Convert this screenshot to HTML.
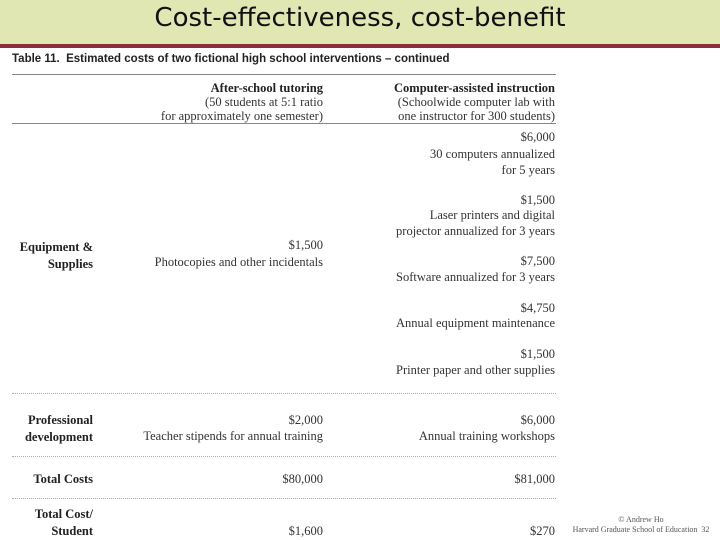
<!DOCTYPE html>
<html><head><meta charset="utf-8"><style>
body{margin:0;width:720px;height:540px;position:relative;background:#fff;overflow:hidden;font-family:"Liberation Serif",serif;color:#333}
.t{position:absolute;white-space:nowrap;font-size:12.5px;line-height:14px;transform:translateY(-50%)}
.r1{right:397px;text-align:right}.r2{right:165px;text-align:right}.r0{right:627px;text-align:right;font-weight:bold;color:#222}
.b{font-weight:bold;color:#222}
.ln{position:absolute;left:12px;width:544px;height:0}
</style></head><body>
<div style="position:absolute;left:0;top:0;width:720px;height:44px;background:#e0e7b3"></div>
<div style="position:absolute;left:0;top:44px;width:720px;height:4px;background:#8b2e3a"></div>
<div style="position:absolute;left:0;top:3px;width:720px;text-align:center;font-family:'DejaVu Sans','Liberation Sans',sans-serif;font-size:26px;color:#111">Cost-effectiveness, cost-benefit</div>
<div style="position:absolute;left:12px;top:53px;font-family:'Liberation Sans',sans-serif;font-weight:bold;font-size:11.5px;color:#222">Table 11.&nbsp; Estimated costs of two fictional high school interventions – continued</div>
<div class="ln" style="top:74px;border-top:1px solid #888"></div>
<div class="ln" style="top:123px;border-top:1px solid #888"></div>
<div class="ln" style="top:393px;border-top:1px dotted #aaa"></div>
<div class="ln" style="top:456px;border-top:1px dotted #aaa"></div>
<div class="ln" style="top:498px;border-top:1px dotted #aaa"></div>

<div class="t r1 b" style="top:88px">After-school tutoring</div>
<div class="t r1" style="top:102px">(50 students at 5:1 ratio</div>
<div class="t r1" style="top:116px">for approximately one semester)</div>
<div class="t r2 b" style="top:88px">Computer-assisted instruction</div>
<div class="t r2" style="top:102px">(Schoolwide computer lab with</div>
<div class="t r2" style="top:116px">one instructor for 300 students)</div>

<div class="t r2" style="top:137px">$6,000</div>
<div class="t r2" style="top:154px">30 computers annualized</div>
<div class="t r2" style="top:170px">for 5 years</div>
<div class="t r2" style="top:200px">$1,500</div>
<div class="t r2" style="top:215px">Laser printers and digital</div>
<div class="t r2" style="top:231px">projector annualized for 3 years</div>
<div class="t r2" style="top:261px">$7,500</div>
<div class="t r2" style="top:277px">Software annualized for 3 years</div>
<div class="t r2" style="top:308px">$4,750</div>
<div class="t r2" style="top:323px">Annual equipment maintenance</div>
<div class="t r2" style="top:354px">$1,500</div>
<div class="t r2" style="top:370px">Printer paper and other supplies</div>

<div class="t r0" style="top:247px">Equipment &amp;</div>
<div class="t r0" style="top:264px">Supplies</div>
<div class="t r1" style="top:245px">$1,500</div>
<div class="t r1" style="top:262px">Photocopies and other incidentals</div>

<div class="t r0" style="top:420px">Professional</div>
<div class="t r0" style="top:437px">development</div>
<div class="t r1" style="top:420px">$2,000</div>
<div class="t r1" style="top:436px">Teacher stipends for annual training</div>
<div class="t r2" style="top:420px">$6,000</div>
<div class="t r2" style="top:436px">Annual training workshops</div>

<div class="t r0" style="top:479px">Total Costs</div>
<div class="t r1" style="top:479px">$80,000</div>
<div class="t r2" style="top:479px">$81,000</div>

<div class="t r0" style="top:514px">Total Cost/</div>
<div class="t r0" style="top:531px">Student</div>
<div class="t r1" style="top:531px">$1,600</div>
<div class="t r2" style="top:531px">$270</div>

<div style="position:absolute;left:566px;top:515px;width:150px;font-size:8px;line-height:10px;color:#555;text-align:center">© Andrew Ho<br>Harvard Graduate School of Education&nbsp;&nbsp;32</div>
</body></html>
